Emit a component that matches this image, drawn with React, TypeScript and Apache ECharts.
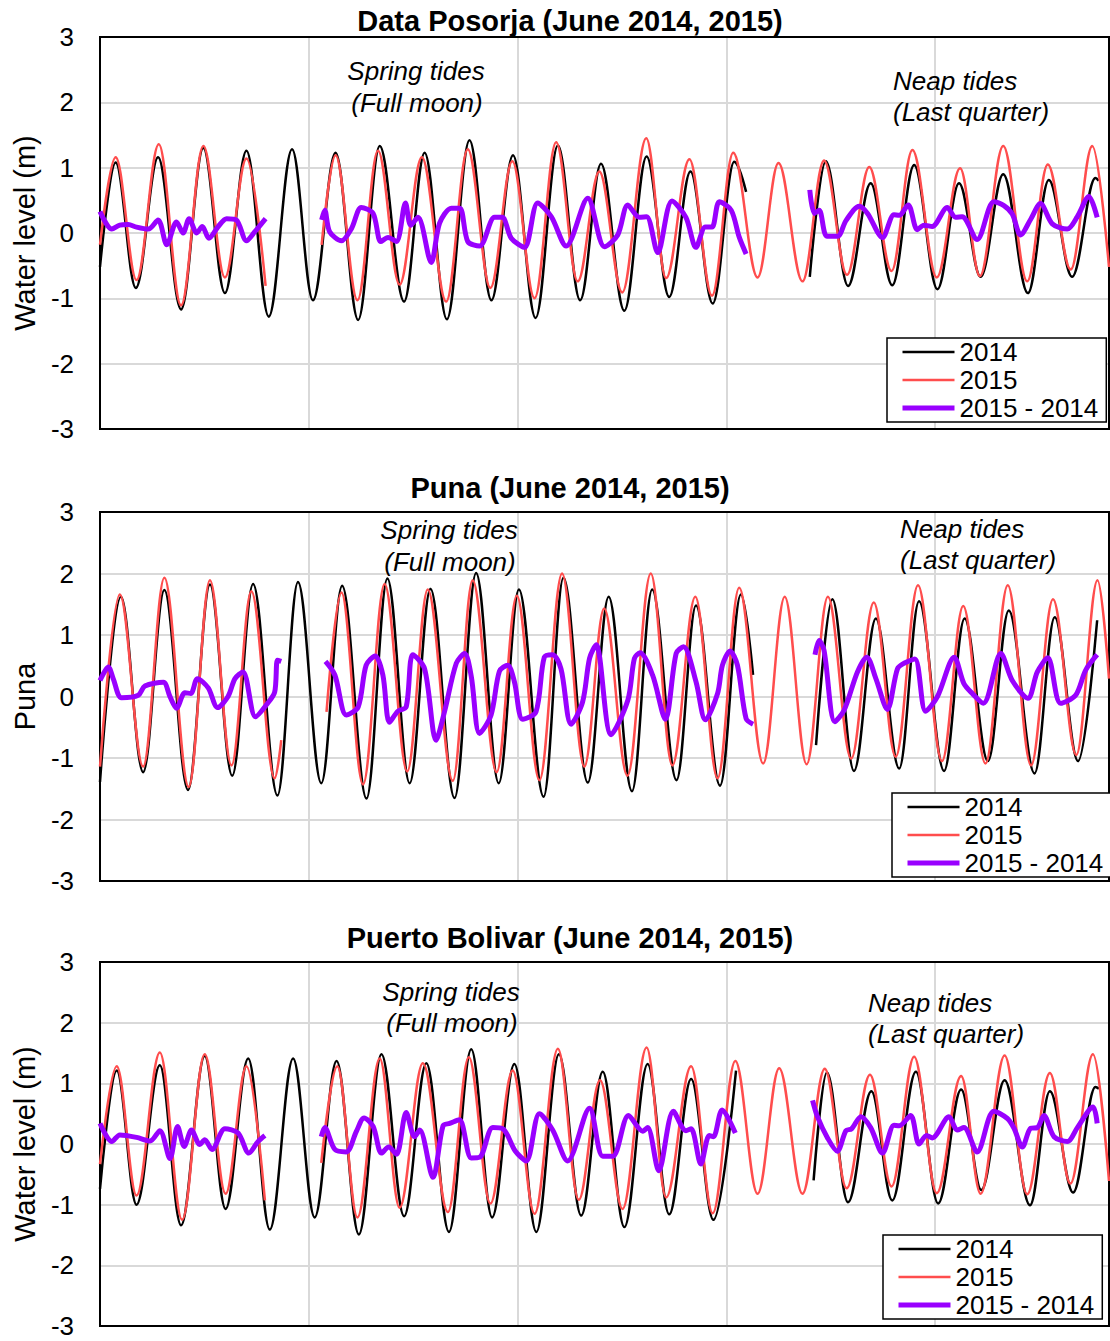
import React, { useEffect, useRef } from 'react';
import * as echarts from 'echarts';

// x values are hours from the start of the plotted window, y values water level (m)
const X_MAX = 290;
const X_GRID_STEP = 60;
const Y_TICKS = [-3, -2, -1, 0, 1, 2, 3];

const SERIES_NAMES = ['2014', '2015', '2015 - 2014'];
const PANEL_TITLES = ['Data Posorja (June 2014, 2015)', 'Puna (June 2014, 2015)', 'Puerto Bolivar (June 2014, 2015)'];
const AXIS_NAMES = ['Water level (m)', 'Puna', 'Water level (m)'];

// ---------- Data Posorja ----------
const posorja2014 = [
  [[0, -0.52], [4.5, 1.08], [10.3, -0.84], [16.7, 1.16], [23.3, -1.17], [29.7, 1.30], [35.9, -0.92], [42.1, 1.26], [48.5, -1.28], [55.2, 1.28], [61.2, -1.03], [67.7, 1.23], [74.2, -1.33], [80.4, 1.33], [87.4, -1.05], [93.3, 1.23], [99.7, -1.32], [106.2, 1.42], [112.5, -1.03], [118.7, 1.19], [125.2, -1.30], [131.6, 1.34], [138.0, -1.03], [144.0, 1.06], [150.7, -1.19], [157.1, 1.17], [163.6, -0.98], [169.7, 0.94], [176.1, -1.08], [182.3, 1.09], [185.7, 0.63]],
  [[204.0, -0.67], [208.6, 1.10], [215.0, -0.81], [221.5, 0.76], [227.7, -0.80], [234.0, 1.04], [240.7, -0.86], [246.9, 0.76], [253.1, -0.67], [259.6, 0.90], [266.7, -0.92], [272.7, 0.81], [279.4, -0.67], [286.1, 0.84], [287.0, 0.80]],
];
const posorja2015 = [
  [[0, -0.18], [4.5, 1.16], [10.5, -0.72], [16.9, 1.36], [23.3, -1.11], [29.7, 1.33], [35.9, -0.68], [42.1, 1.14], [47.6, -0.81]],
  [[63.7, -0.18], [67.7, 1.19], [74.0, -1.03], [79.9, 1.26], [86.1, -0.79], [92.5, 1.16], [99.5, -1.05], [105.7, 1.28], [112.2, -0.84], [118.5, 1.10], [124.9, -1.00], [131.1, 1.39], [137.3, -0.74], [143.5, 0.94], [150.1, -0.91], [157.0, 1.45], [162.7, -0.69], [169.4, 1.13], [175.9, -0.96], [182.0, 1.23], [189.0, -0.68], [195.0, 1.07], [201.9, -0.74], [208.1, 1.11], [214.7, -0.64], [221.1, 1.01], [227.5, -0.58], [233.5, 1.27], [240.5, -0.68], [247.2, 0.99], [252.9, -0.66], [259.6, 1.33], [266.5, -0.74], [272.4, 1.05], [279.0, -0.56], [285.2, 1.33], [290.0, -0.52]],
];
const posorjaDiff = [
  [[0, 0.33], [3.4, 0.06], [5.7, 0.12], [8.1, 0.13], [10.5, 0.09], [13.9, 0.06], [16.7, 0.20], [19.2, -0.18], [22.0, 0.17], [23.9, 0.00], [25.6, 0.22], [27.8, 0.0], [29.4, 0.10], [31.3, -0.08], [34.0, 0.10], [36.4, 0.22], [39.2, 0.20], [42.1, -0.12], [44.5, 0.02], [47.6, 0.22]],
  [[63.7, 0.20], [64.6, 0.35], [66.0, 0.02], [69.4, -0.12], [72.3, 0.07], [75.1, 0.39], [78.5, 0.30], [80.7, -0.13], [82.8, -0.07], [85.2, -0.13], [87.8, 0.46], [89.3, 0.12], [91.4, 0.24], [95.2, -0.45], [97.6, 0.15], [101.0, 0.38], [103.4, 0.38], [105.7, -0.13], [109.1, -0.20], [113.4, 0.24], [115.6, 0.24], [118.2, -0.08], [122.0, -0.22], [125.8, 0.46], [129.7, 0.25], [134.0, -0.20], [140.2, 0.53], [145.0, -0.21], [148.8, -0.03], [151.7, 0.43], [155.0, 0.24], [157.1, 0.25], [160.3, -0.30], [164.4, 0.49], [168.4, 0.24], [171.3, -0.22], [174.0, 0.09], [175.9, 0.09], [178.0, 0.48], [181.4, 0.35], [183.7, -0.06], [185.7, -0.32]],
  [[204.0, 0.66], [205.3, 0.30], [206.7, 0.35], [208.9, -0.05], [212.0, -0.05], [214.4, 0.19], [218.2, 0.41], [220.6, 0.30], [224.9, -0.07], [228.2, 0.28], [229.7, 0.27], [232.3, 0.43], [234.9, 0.05], [236.8, 0.12], [239.2, 0.10], [243.5, 0.39], [245.9, 0.24], [247.8, 0.25], [252.1, -0.10], [256.9, 0.48], [259.8, 0.42], [262.2, 0.29], [264.6, -0.03], [267.5, 0.21], [270.3, 0.45], [273.7, 0.14], [278.0, 0.06], [280.9, 0.25], [284.2, 0.56], [286.6, 0.24]],
];

// ---------- Puna ----------
const puna2014 = [
  [[0, -1.39], [6.0, 1.62], [12.4, -1.23], [18.5, 1.73], [25.3, -1.52], [31.6, 1.82], [38.0, -1.29], [44.0, 1.83], [51.0, -1.61], [56.9, 1.86], [63.6, -1.41], [69.6, 1.80], [76.6, -1.66], [82.6, 1.92], [89.0, -1.41], [95.0, 1.75], [101.9, -1.65], [108.1, 2.01], [114.6, -1.41], [120.4, 1.74], [127.5, -1.63], [133.2, 1.93], [140.2, -1.40], [146.2, 1.62], [152.9, -1.54], [158.7, 1.74], [165.7, -1.36], [171.3, 1.48], [178.2, -1.45], [184.2, 1.66], [187.7, 0.35]],
  [[205.8, -0.79], [210.5, 1.58], [216.7, -1.21], [223.0, 1.27], [229.7, -1.17], [235.4, 1.55], [242.6, -1.21], [248.5, 1.27], [255.2, -1.05], [261.2, 1.40], [268.6, -1.25], [274.4, 1.29], [281.1, -1.05], [286.6, 1.24]],
];
const puna2015 = [
  [[0, -1.14], [5.7, 1.66], [12.4, -1.14], [18.5, 1.93], [25.5, -1.47], [31.6, 1.89], [37.8, -1.12], [43.5, 1.71], [50.2, -1.33], [52.1, -0.71]],
  [[65.1, -0.25], [69.4, 1.69], [75.6, -1.43], [81.8, 1.83], [88.3, -1.22], [94.2, 1.74], [101.4, -1.37], [107.1, 1.89], [114.0, -1.23], [119.8, 1.64], [126.3, -1.36], [132.8, 2.00], [139.2, -1.14], [144.9, 1.43], [151.6, -1.29], [158.3, 2.00], [164.5, -1.12], [171.1, 1.62], [177.5, -1.33], [183.7, 1.77], [190.6, -1.09], [196.8, 1.62], [203.1, -1.10], [209.2, 1.62], [215.9, -1.01], [222.4, 1.53], [228.7, -0.98], [235.1, 1.81], [242.0, -1.05], [248.1, 1.47], [254.5, -1.09], [260.9, 1.81], [267.6, -1.12], [273.9, 1.58], [280.6, -0.95], [286.7, 1.89], [290.0, 0.29]],
];
const punaDiff = [
  [[0, 0.26], [2.4, 0.48], [3.8, 0.29], [6.2, -0.02], [11.0, 0.02], [12.9, 0.17], [18.2, 0.23], [20.1, 0], [22.0, -0.19], [24.4, 0.06], [26.1, 0.05], [28.0, 0.29], [31.1, 0.14], [33.8, -0.18], [36.8, 0], [38.8, 0.29], [41.1, 0.40], [44.7, -0.33], [47.9, -0.13], [50.2, 0.07], [51.0, 0.59], [52.1, 0.57]],
  [[64.8, 0.57], [67.5, 0.35], [70.8, -0.30], [74.2, -0.17], [76.5, 0.51], [79.1, 0.66], [81.3, 0.35], [83.2, -0.42], [85.6, -0.24], [88.0, -0.17], [89.9, 0.68], [93.3, 0.45], [96.6, -0.71], [99.0, -0.25], [102.4, 0.54], [104.8, 0.70], [106.7, 0.33], [109.1, -0.60], [112.4, -0.30], [114.8, 0.41], [117.2, 0.51], [119.1, 0.24], [121.5, -0.37], [125.3, -0.25], [127.7, 0.64], [130.1, 0.68], [132.5, 0.45], [135.4, -0.45], [138.7, -0.09], [140.7, 0.62], [142.6, 0.84], [146.9, -0.62], [151.7, -0.06], [153.6, 0.62], [155.2, 0.71], [158.8, 0.35], [162.5, -0.37], [165.6, 0.70], [167.7, 0.81], [171.3, 0.24], [174.0, -0.38], [177.5, 0.05], [178.9, 0.51], [181.1, 0.74], [183.2, 0.51], [185.7, -0.36], [187.7, -0.45]],
  [[205.5, 0.68], [206.7, 0.91], [208.1, 0.75], [211.2, -0.41], [213.9, -0.22], [217.7, 0.40], [220.4, 0.64], [223.0, 0.29], [226.3, -0.21], [229.2, 0.45], [231.1, 0.54], [234.2, 0.61], [237.3, -0.24], [240.7, 0], [245.5, 0.64], [248.3, 0.21], [250.7, 0.05], [253.9, -0.11], [258.9, 0.70], [262.2, 0.26], [266.7, -0.03], [269.4, 0.40], [272.4, 0.63], [276.1, -0.11], [280.4, 0.02], [283.3, 0.43], [286.6, 0.68]],
];

// ---------- Puerto Bolivar ----------
const bolivar2014 = [
  [[0, -0.74], [4.8, 1.21], [10.5, -1.00], [17.2, 1.30], [23.3, -1.34], [30.1, 1.45], [36.1, -1.07], [42.6, 1.41], [48.8, -1.41], [55.5, 1.41], [61.7, -1.21], [68.0, 1.37], [74.4, -1.49], [80.9, 1.48], [87.4, -1.19], [93.8, 1.33], [100.3, -1.45], [106.7, 1.56], [112.7, -1.21], [119.1, 1.32], [125.4, -1.45], [131.9, 1.48], [138.3, -1.18], [144.5, 1.19], [150.7, -1.37], [157.4, 1.32], [163.6, -1.16], [169.9, 1.07], [176.3, -1.25], [182.8, 1.21]],
  [[205.1, -0.60], [208.9, 1.18], [215.0, -0.96], [221.7, 0.87], [227.7, -0.93], [234.5, 1.19], [240.9, -0.98], [247.5, 0.90], [253.3, -0.76], [260.0, 1.05], [267.3, -1.01], [273.0, 0.87], [279.7, -0.80], [286.1, 0.94], [287.1, 0.91]],
];
const bolivar2015 = [
  [[0, -0.33], [4.8, 1.28], [10.5, -0.85], [17.2, 1.51], [23.6, -1.25], [30.1, 1.48], [36.1, -0.82], [42.1, 1.28], [47.4, -0.93]],
  [[63.6, -0.31], [68.2, 1.28], [74.0, -1.21], [80.4, 1.41], [86.1, -1.05], [92.8, 1.33], [100.0, -1.12], [106.0, 1.43], [112.2, -0.98], [118.6, 1.21], [124.9, -1.15], [131.6, 1.57], [137.6, -0.92], [143.7, 1.05], [150.2, -1.07], [157.1, 1.59], [162.7, -0.88], [169.9, 1.28], [176.1, -1.14], [182.6, 1.37], [189.0, -0.82], [195.2, 1.25], [201.9, -0.82], [208.3, 1.24], [214.6, -0.73], [221.3, 1.14], [227.5, -0.70], [234.0, 1.44], [240.5, -0.81], [247.5, 1.12], [253.1, -0.82], [260.0, 1.46], [266.5, -0.83], [273.0, 1.17], [278.9, -0.65], [285.4, 1.48], [290.0, -0.61]],
];
const bolivarDiff = [
  [[0, 0.34], [3.4, 0.04], [5.7, 0.15], [10.5, 0.11], [14.4, 0.05], [17.2, 0.22], [20.1, -0.24], [22.3, 0.29], [24.2, -0.04], [26.3, 0.23], [28.7, -0.01], [30.1, 0.07], [32.2, -0.09], [35.9, 0.25], [39.7, 0.18], [42.8, -0.15], [45.4, 0.04], [47.4, 0.14]],
  [[63.6, 0.12], [64.6, 0.27], [67.5, -0.09], [70.8, -0.13], [73.7, 0.21], [75.9, 0.43], [78.5, 0.29], [80.9, -0.15], [83.0, -0.05], [85.2, -0.17], [88.0, 0.52], [90.4, 0.12], [91.9, 0.23], [95.7, -0.55], [98.6, 0.30], [100.5, 0.34], [103.3, 0.40], [106.7, -0.23], [109.1, -0.22], [112.9, 0.27], [115.8, 0.25], [119.4, -0.12], [122.5, -0.28], [126.3, 0.50], [130.1, 0.23], [134.4, -0.28], [140.7, 0.59], [144.5, -0.20], [147.4, -0.20], [151.9, 0.47], [156.0, 0.21], [157.4, 0.27], [160.6, -0.44], [164.8, 0.54], [168.4, 0.22], [169.9, 0.25], [172.7, -0.33], [175.1, 0.14], [176.3, 0.12], [178.8, 0.56], [182.6, 0.18]],
  [[204.8, 0.72], [206.2, 0.45], [209.1, 0.10], [211.9, -0.12], [214.4, 0.22], [216.0, 0.25], [218.7, 0.45], [221.5, 0.27], [224.9, -0.15], [228.2, 0.31], [229.7, 0.30], [233.0, 0.47], [235.4, 0.0], [237.6, 0.14], [239.2, 0.10], [244.0, 0.45], [246.4, 0.23], [248.3, 0.27], [252.1, -0.13], [256.9, 0.54], [260.8, 0.42], [262.7, 0.26], [265.1, -0.05], [267.5, 0.26], [269.4, 0.27], [271.3, 0.47], [274.2, 0.12], [278.0, 0.04], [280.9, 0.27], [285.4, 0.61], [286.6, 0.34]],
];

const PANELS = [
  { s2014: posorja2014, s2015: posorja2015, diff: posorjaDiff },
  { s2014: puna2014, s2015: puna2015, diff: punaDiff },
  { s2014: bolivar2014, s2015: bolivar2015, diff: bolivarDiff },
];

// ---------- layout / style (not data) ----------
const FONT = '"Liberation Sans", Arial, Helvetica, sans-serif';
const GRIDS = [
  { top: 37, height: 392 },
  { top: 512, height: 369 },
  { top: 962, height: 364 },
];
const TITLE_Y = [21, 488, 938];
const LEGEND_POS = [
  { left: 887, top: 338 },
  { left: 892, top: 793 },
  { left: 883, top: 1235 },
];
const ANNOTATIONS = [
  { text: 'Spring tides', x: 416, y: 71, align: 'center' },
  { text: '(Full moon)', x: 417, y: 103, align: 'center' },
  { text: 'Neap tides', x: 893, y: 81, align: 'left' },
  { text: '(Last quarter)', x: 893, y: 112, align: 'left' },
  { text: 'Spring tides', x: 449, y: 530, align: 'center' },
  { text: '(Full moon)', x: 450, y: 562, align: 'center' },
  { text: 'Neap tides', x: 900, y: 529, align: 'left' },
  { text: '(Last quarter)', x: 900, y: 560, align: 'left' },
  { text: 'Spring tides', x: 451, y: 992, align: 'center' },
  { text: '(Full moon)', x: 452, y: 1023, align: 'center' },
  { text: 'Neap tides', x: 868, y: 1003, align: 'left' },
  { text: '(Last quarter)', x: 868, y: 1034, align: 'left' },
];
const COLORS = ['#000000', '#ff4d4d', '#9900ff'];
const WIDTHS = [2.5, 2.5, 5];

function joinSegments(segs: number[][][]): any[] {
  const out: any[] = [];
  segs.forEach((seg, i) => {
    if (i > 0) {
      const prev = segs[i - 1];
      out.push([(prev[prev.length - 1][0] + seg[0][0]) / 2, '-']);
    }
    seg.forEach((p) => out.push(p));
  });
  return out;
}

export default function App() {
  const ref = useRef<HTMLDivElement>(null);

  useEffect(() => {
    if (!ref.current) return;
    const chart = echarts.init(ref.current, undefined, { renderer: 'svg' });

    const grid = GRIDS.map((g) => ({
      left: 100,
      right: 1,
      top: g.top,
      height: g.height,
      show: true,
      borderColor: '#000',
      borderWidth: 2,
      backgroundColor: 'transparent',
      z: 1,
    }));

    const xAxis = GRIDS.map((_, i) => ({
      type: 'value',
      gridIndex: i,
      min: 0,
      max: X_MAX,
      interval: X_GRID_STEP,
      axisLabel: { show: false },
      axisTick: { show: false },
      axisLine: { show: false },
      splitLine: { show: true, lineStyle: { color: '#d9d9d9', width: 2 } },
      z: 0,
    }));

    const yAxis = GRIDS.map((_, i) => ({
      type: 'value',
      gridIndex: i,
      min: Y_TICKS[0],
      max: Y_TICKS[Y_TICKS.length - 1],
      interval: 1,
      name: AXIS_NAMES[i],
      nameLocation: 'middle',
      nameGap: 60,
      nameTextStyle: { fontSize: 29, color: '#000', fontFamily: FONT },
      axisLabel: { fontSize: 26, color: '#000', fontFamily: FONT, margin: 26 },
      axisTick: { show: false },
      axisLine: { show: false },
      splitLine: { show: true, lineStyle: { color: '#d9d9d9', width: 2 } },
      z: 0,
    }));

    const series: any[] = [];
    PANELS.forEach((p, i) => {
      const sets = [p.s2014, p.s2015, p.diff];
      sets.forEach((segs, k) => {
        series.push({
          type: 'line',
          name: SERIES_NAMES[k],
          xAxisIndex: i,
          yAxisIndex: i,
          data: joinSegments(segs),
          symbol: 'none',
          smooth: k === 2 ? 0.3 : 0.36,
          smoothMonotone: k === 2 ? undefined : 'x',
          lineStyle: { color: COLORS[k], width: WIDTHS[k] },
          itemStyle: { color: COLORS[k] },
          z: 2 + k,
        });
      });
    });

    const legend = LEGEND_POS.map((l) => ({
      left: l.left,
      top: l.top,
      orient: 'vertical',
      data: SERIES_NAMES.map((n, k) => ({
        name: n,
        lineStyle: { color: COLORS[k], width: WIDTHS[k] },
      })),
      itemWidth: 52,
      itemHeight: 2,
      itemGap: 2,
      padding: [1, 8, 1, 13],
      borderColor: '#000',
      borderWidth: 1.5,
      backgroundColor: '#fff',
      selectedMode: false,
      itemStyle: { opacity: 0 },
      textStyle: { fontSize: 26, color: '#000', fontFamily: FONT },
      z: 10,
    }));

    const graphic: any[] = [];
    PANEL_TITLES.forEach((t, i) => {
      graphic.push({
        type: 'text', x: 570, y: TITLE_Y[i], z: 20,
        style: { text: t, fill: '#000', font: `bold 29px ${FONT}`, textAlign: 'center', textVerticalAlign: 'middle' },
      });
    });
    ANNOTATIONS.forEach((a) => {
      graphic.push({
        type: 'text', x: a.x, y: a.y, z: 20,
        style: { text: a.text, fill: '#000', font: `italic 26px ${FONT}`, textAlign: a.align, textVerticalAlign: 'middle' },
      });
    });

    chart.setOption({
      animation: false,
      backgroundColor: '#fff',
      grid,
      xAxis,
      yAxis,
      legend,
      series,
      graphic,
    });

    return () => chart.dispose();
  }, []);

  return <div ref={ref} style={{ position: 'absolute', left: 0, top: 0, width: 1110, height: 1341 }} />;
}
